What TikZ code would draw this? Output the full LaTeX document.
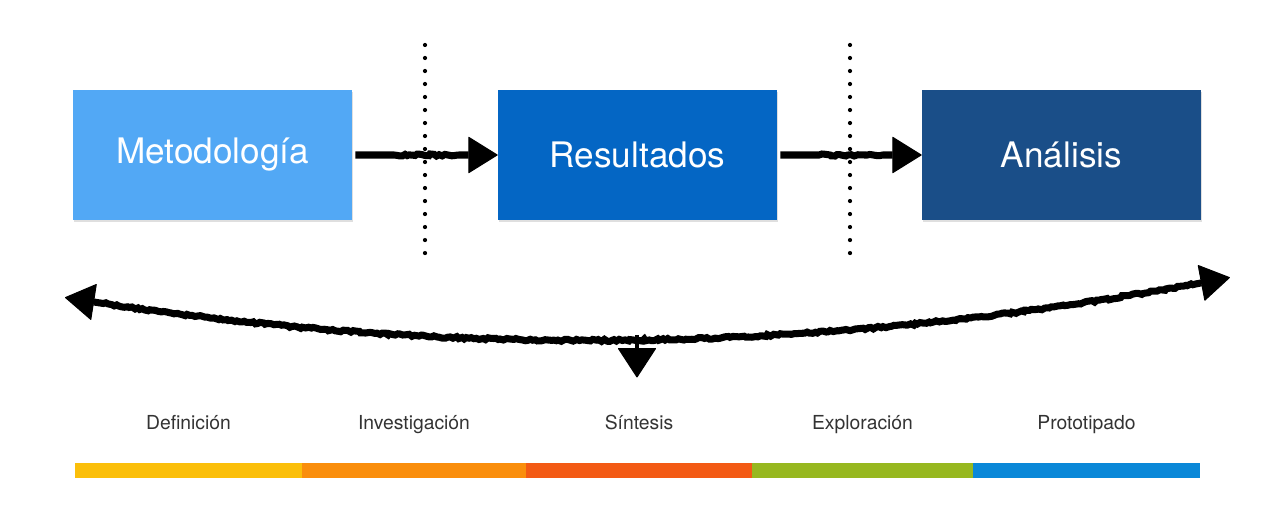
\documentclass[tikz,border=0pt]{standalone}
\usepackage{fontspec}
\setmainfont{TeX Gyre Heros}
\usetikzlibrary{arrows.meta,decorations.pathmorphing,shadows}
\definecolor{metcol}{HTML}{52A8F5}
\definecolor{rescol}{HTML}{0466C4}
\definecolor{anacol}{HTML}{1A4E88}
\definecolor{barA}{HTML}{FBBF0A}
\definecolor{barB}{HTML}{FA8E0C}
\definecolor{barC}{HTML}{F35A14}
\definecolor{barD}{HTML}{97B81F}
\definecolor{barE}{HTML}{0A88D8}
\definecolor{labcol}{HTML}{333333}
\tikzset{
  stagebox/.style={minimum width=5.58cm, minimum height=2.6cm, inner sep=0pt,
    text=white, font=\fontsize{20}{24}\selectfont,
    drop shadow={shadow xshift=0.3pt, shadow yshift=-1.2pt, opacity=0.25}},
  sketch/.style={line width=4pt, black, decorate,
    decoration={random steps, segment length=1.5pt, amplitude=0.6pt,
      pre length=22pt, post length=22pt}},
  roughtip/.tip={Triangle[length=17pt, width=21pt, line width=0.6pt, round]},
  sketchtip/.style={-roughtip},
  phase/.style={text=labcol, font=\fontsize{11}{13}\selectfont, anchor=base},
  barseg/.style={minimum height=0.3cm, inner sep=0pt, anchor=south west},
  dotline/.style={line width=2.4pt, line cap=round, dash pattern=on 0pt off 7.4pt}
}
\begin{document}
\begin{tikzpicture}
\useasboundingbox (0,0) rectangle (25.36,10.6);
%% etapas
\node[stagebox, fill=metcol] (Met) at (4.25,7.5) {Metodología};
\node[stagebox, fill=rescol] (Res) at (12.75,7.5) {Resultados};
\node[stagebox, fill=anacol] (Ana) at (21.23,7.5) {Análisis};
%% separadores
\coordinate (S1a) at (8.5,9.7);
\coordinate (S1b) at (8.5,5.3);
\coordinate (S2a) at (17.0,9.7);
\coordinate (S2b) at (17.0,5.3);
\draw[dotline] (S1a) -- (S1b);
\draw[dotline] (S2a) -- (S2b);
%% flechas entre etapas
\draw[sketch, sketchtip] (Met.east) ++(0.06,0) -- (Res.west);
\draw[sketch, sketchtip] (Res.east) ++(0.06,0) -- (Ana.west);
%% flecha curva
\coordinate (L) at (1.3,4.65);
\coordinate (R) at (24.6,5.05);
\coordinate (C) at (12.74,3.9);
\coordinate (D) at (12.74,3.05);
\draw[sketch, roughtip-roughtip]
  (L) .. controls (9.0,3.4) and (16.6,3.5) .. (R);
\draw[line width=2.5pt, -{Triangle[length=17pt, width=22pt, line width=0.6pt, round]}] (C) -- (D);
%% fases
\node[phase] (Def) at (3.77,2.0) {Definición};
\node[phase] (Inv) at (8.28,2.0) {Investigación};
\node[phase] (Sin) at (12.78,2.0) {Síntesis};
\node[phase] (Exp) at (17.25,2.0) {Exploración};
\node[phase] (Pro) at (21.73,2.0) {Prototipado};
%% barra
\node[barseg, fill=barA, minimum width=4.54cm] (BA) at (1.5,1.04) {};
\node[barseg, fill=barB, minimum width=4.48cm] (BB) at (6.04,1.04) {};
\node[barseg, fill=barC, minimum width=4.52cm] (BC) at (10.52,1.04) {};
\node[barseg, fill=barD, minimum width=4.42cm] (BD) at (15.04,1.04) {};
\node[barseg, fill=barE, minimum width=4.54cm] (BE) at (19.46,1.04) {};
\end{tikzpicture}
\end{document}
